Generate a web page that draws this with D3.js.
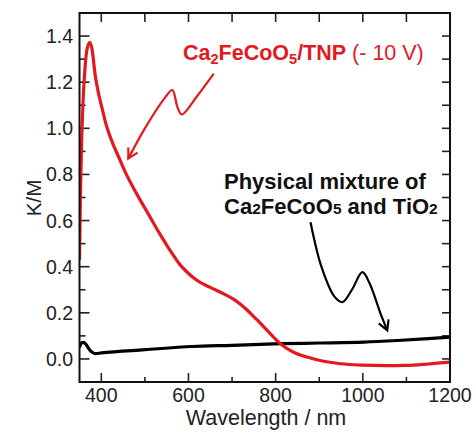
<!DOCTYPE html>
<html>
<head>
<meta charset="utf-8">
<script src="https://cdn.jsdelivr.net/npm/d3@7"></script>
<style>
  body { margin: 0; background: #fff; }
  text { font-family: "Liberation Sans", Arial, sans-serif; }
</style>
</head>
<body>
<svg id="chart" width="474" height="432"></svg>
<script>
// spectra: wavelength (nm) -> K/M
const redWavelengths = [350, 352, 355, 359, 363, 368, 374, 379, 386, 395, 402, 412, 425, 440, 455, 480, 512, 535, 558, 580, 597, 620, 650, 680, 704, 730, 757, 785, 811, 840, 872, 910, 949, 1000, 1050, 1100, 1150, 1200];
const redValues = [0.43, 0.70, 0.95, 1.15, 1.27, 1.35, 1.373, 1.34, 1.23, 1.14, 1.085, 1.01, 0.94, 0.875, 0.81, 0.72, 0.615, 0.54, 0.47, 0.41, 0.376, 0.34, 0.31, 0.283, 0.258, 0.22, 0.17, 0.115, 0.066, 0.03, 0.008, -0.01, -0.021, -0.027, -0.029, -0.028, -0.022, -0.014];

const blackWavelengths = [350, 355, 360, 366, 373, 380, 386, 400, 500, 608, 700, 811, 900, 1002, 1079, 1150, 1200];
const blackValues = [0.05, 0.07, 0.072, 0.06, 0.04, 0.028, 0.023, 0.026, 0.04, 0.054, 0.059, 0.066, 0.069, 0.073, 0.08, 0.088, 0.095];

// hand-drawn arrows, in data coordinates
const redArrow = [[658, 1.237], [620, 1.14], [585, 1.06], [575, 1.09], [563, 1.166], [545, 1.13], [500, 1.0], [462, 0.869]];
const blackArrow = [[880, 0.593], [905, 0.40], [935, 0.27], [953, 0.246], [975, 0.30], [999, 0.376], [1015, 0.33], [1040, 0.20], [1056, 0.124]];

const xTicks = [400, 600, 800, 1000, 1200];
const yTicks = [0.0, 0.2, 0.4, 0.6, 0.8, 1.0, 1.2, 1.4];

const margin = { left: 79.5, right: 24, top: 13, bottom: 50 };
const width = 474, height = 432;
const red = "#e3191f";

const svg = d3.select("#chart");

const x = d3.scaleLinear().domain([350, 1200]).range([margin.left, width - margin.right]);
const y = d3.scaleLinear().domain([-0.1, 1.5]).range([height - margin.bottom, margin.top]);

const x0 = x.range()[0], x1 = x.range()[1];
const y0 = y.range()[0], y1 = y.range()[1];

// ticks, all pointing inward
let tickLines = [];
d3.range(400, 1201, 100).forEach((w) => {
    let major = w % 200 === 0;
    tickLines.push([x(w), y0, x(w), y0 - (major ? 9 : 5)]);
    tickLines.push([x(w), y1, x(w), y1 + 9]);
});
d3.range(0, 15).forEach((i) => {
    let v = i / 10;
    let major = i % 2 === 0;
    tickLines.push([x0, y(v), x0 + (major ? 10 : 6), y(v)]);
    tickLines.push([x1, y(v), x1 - 8, y(v)]);
});
svg.append("g").selectAll("line").data(tickLines).join("line")
    .attr("x1", d => d[0]).attr("y1", d => d[1])
    .attr("x2", d => d[2]).attr("y2", d => d[3])
    .attr("stroke", "#222").attr("stroke-width", 1.6);

svg.append("g").selectAll("text").data(xTicks).join("text")
    .attr("x", d => x(d)).attr("y", 402)
    .attr("text-anchor", "middle")
    .attr("font-size", 19.5).attr("fill", "#222")
    .text(d => d);

svg.append("g").selectAll("text").data(yTicks).join("text")
    .attr("x", 73).attr("y", d => y(d) + 7)
    .attr("text-anchor", "end")
    .attr("font-size", 19.5).attr("fill", "#222")
    .text(d => d.toFixed(1));

svg.append("text")
    .attr("x", 266).attr("y", 425)
    .attr("text-anchor", "middle")
    .attr("font-size", 21.5).attr("fill", "#222")
    .text("Wavelength / nm");

svg.append("text")
    .attr("transform", "translate(41,198) rotate(-90)")
    .attr("text-anchor", "middle")
    .attr("font-size", 20.5).attr("fill", "#222")
    .text("K/M");

// curves
let line = d3.line().x(d => x(d[0])).y(d => y(d[1])).curve(d3.curveMonotoneX);
let freeLine = d3.line().x(d => x(d[0])).y(d => y(d[1])).curve(d3.curveCatmullRom);

svg.append("defs").append("clipPath").attr("id", "plot")
    .append("rect").attr("x", x0).attr("y", y1).attr("width", x1 - x0).attr("height", y0 - y1);

let plot = svg.append("g").attr("clip-path", "url(#plot)");

plot.append("path")
    .attr("d", line(d3.zip(blackWavelengths, blackValues)))
    .attr("fill", "none").attr("stroke", "#000").attr("stroke-width", 3.2);

plot.append("path")
    .attr("d", line(d3.zip(redWavelengths, redValues)))
    .attr("fill", "none").attr("stroke", red).attr("stroke-width", 3.2);

// frame
svg.append("rect")
    .attr("x", x0).attr("y", y1).attr("width", x1 - x0).attr("height", y0 - y1)
    .attr("fill", "none").attr("stroke", "#111").attr("stroke-width", 2);

// arrows
function drawArrow(points, color) {
    svg.append("path")
        .attr("d", freeLine(points))
        .attr("fill", "none").attr("stroke", color).attr("stroke-width", 2.2);
    let tip = points[points.length - 1];
    let prev = points[points.length - 2];
    let tx = x(tip[0]), ty = y(tip[1]);
    let angle = Math.atan2(ty - y(prev[1]), tx - x(prev[0]));
    let head = 11, spread = 0.5;
    let a = [tx - head * Math.cos(angle - spread), ty - head * Math.sin(angle - spread)];
    let b = [tx - head * Math.cos(angle + spread), ty - head * Math.sin(angle + spread)];
    svg.append("path")
        .attr("d", `M${a[0]},${a[1]}L${tx},${ty}L${b[0]},${b[1]}`)
        .attr("fill", "none").attr("stroke", color).attr("stroke-width", 2.2)
        .attr("stroke-linejoin", "miter");
}
drawArrow(redArrow, red);
drawArrow(blackArrow, "#000");

// labels
let redLabel = svg.append("text")
    .attr("x", 183).attr("y", 60)
    .attr("font-size", 21.5).attr("fill", red);
redLabel.append("tspan").attr("font-weight", "bold").text("Ca");
redLabel.append("tspan").attr("font-weight", "bold").attr("font-size", 14.5).attr("dy", 4).text("2");
redLabel.append("tspan").attr("font-weight", "bold").attr("dy", -4).text("FeCoO");
redLabel.append("tspan").attr("font-weight", "bold").attr("font-size", 14.5).attr("dy", 4).text("5");
redLabel.append("tspan").attr("font-weight", "bold").attr("dy", -4).text("/TNP");
redLabel.append("tspan").text(" (- 10 V)");

svg.append("text")
    .attr("x", 224).attr("y", 189)
    .attr("font-size", 22).attr("font-weight", "bold").attr("fill", "#111")
    .text("Physical mixture of");

let blackLabel = svg.append("text")
    .attr("x", 224).attr("y", 214)
    .attr("font-size", 22).attr("font-weight", "bold").attr("fill", "#111");
blackLabel.append("tspan").text("Ca");
blackLabel.append("tspan").attr("font-size", 15.5).text("2");
blackLabel.append("tspan").text("FeCoO");
blackLabel.append("tspan").attr("font-size", 15.5).text("5");
blackLabel.append("tspan").text(" and TiO");
blackLabel.append("tspan").attr("font-size", 15.5).text("2");
</script>
</body>
</html>
